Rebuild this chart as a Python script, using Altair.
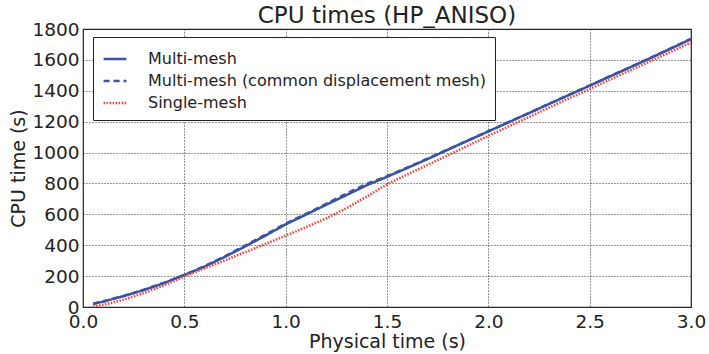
import altair as alt
import pandas as pd

# Physical time samples (s)
times = [0.05, 0.1, 0.2, 0.3, 0.4, 0.5, 0.6, 0.7, 0.8, 0.9, 1.0, 1.1, 1.2, 1.3, 1.4, 1.5,
         1.6, 1.7, 1.8, 1.9, 2.0, 2.1, 2.2, 2.3, 2.4, 2.5, 2.6, 2.7, 2.8, 2.9, 3.0]

# CPU times (s)
multi_mesh = [20, 35, 70, 110, 155, 207, 262, 325, 392, 462, 535, 598, 662, 725, 788, 843,
              900, 958, 1018, 1078, 1137, 1196, 1255, 1315, 1374, 1433, 1493, 1552, 1612, 1673, 1735]
multi_mesh_common = [22, 37, 72, 112, 157, 208, 264, 328, 398, 468, 540, 603, 668, 735, 797, 847,
                     902, 960, 1020, 1079, 1138, 1197, 1256, 1316, 1375, 1434, 1494, 1553, 1613, 1674, 1736]
single_mesh = [3, 14, 47, 90, 140, 198, 250, 302, 355, 408, 462, 517, 574, 640, 715, 795,
               858, 920, 982, 1045, 1108, 1169, 1230, 1291, 1352, 1411, 1472, 1532, 1592, 1653, 1713]

series_names = ["Multi-mesh", "Multi-mesh (common displacement mesh)", "Single-mesh"]
series_values = [multi_mesh, multi_mesh_common, single_mesh]

x_ticks = [0.0, 0.5, 1.0, 1.5, 2.0, 2.5, 3.0]
y_ticks = [0, 200, 400, 600, 800, 1000, 1200, 1400, 1600, 1800]

rows = []
for name, vals in zip(series_names, series_values):
    for i, (t, v) in enumerate(zip(times, vals)):
        rows.append({"t": t, "cpu": v, "series": name, "order": i})
df = pd.DataFrame(rows)

FONT = "DejaVu Sans"

chart = alt.Chart(df).mark_line(strokeCap="butt").encode(
    x=alt.X("t:Q",
            scale=alt.Scale(domain=[0, 3], nice=False, zero=False),
            axis=alt.Axis(values=x_ticks, format=".1f", title="Physical time (s)",
                          labelPadding=5, titlePadding=2, labelFlush=False)),
    y=alt.Y("cpu:Q",
            scale=alt.Scale(domain=[0, 1800], nice=False),
            axis=alt.Axis(values=y_ticks, format="d", title="CPU time (s)",
                          labelPadding=4, titlePadding=3, labelFlush=False)),
    color=alt.Color("series:N",
                    scale=alt.Scale(domain=series_names, range=["#3a53a4", "#3a53a4", "#ff3a3a"]),
                    legend=alt.Legend(title=None, orient="none", legendX=10, legendY=8,
                                      symbolType="stroke", symbolSize=520,
                                      labelFontSize=16, labelFont=FONT, labelColor="#222",
                                      labelOffset=20, labelLimit=0, padding=9, rowPadding=1,
                                      strokeColor="#222", fillColor="white",
                                      cornerRadius=0)),
    strokeDash=alt.StrokeDash("series:N",
                              scale=alt.Scale(domain=series_names,
                                              range=[[1, 0], [6, 4], [1.5, 1.5]]),
                              legend=None),
    strokeWidth=alt.StrokeWidth("series:N",
                                scale=alt.Scale(domain=series_names, range=[2.5, 2.5, 1.6]),
                                legend=None),
    order="order:Q",
).properties(
    width=608,
    height=278,
    title=alt.TitleParams("CPU times (HP_ANISO)", fontSize=23, font=FONT,
                          fontWeight="normal", color="#222", offset=0, dy=8, anchor="middle"),
    autosize=alt.AutoSizeParams(type="none"),
    padding={"left": 83, "top": 29, "right": 18, "bottom": 47},
).configure_view(
    stroke="#222", strokeWidth=1.2
).configure_axis(
    grid=True, gridColor="#333", gridDash=[1, 2], gridWidth=1, gridOpacity=1,
    domain=False, ticks=False,
    labelFont=FONT, labelFontSize=18.5, labelColor="#222",
    titleFont=FONT, titleFontSize=19, titleFontWeight="normal", titleColor="#222",
)

chart.save("out.html", embed_options={"renderer": "svg", "actions": False})
